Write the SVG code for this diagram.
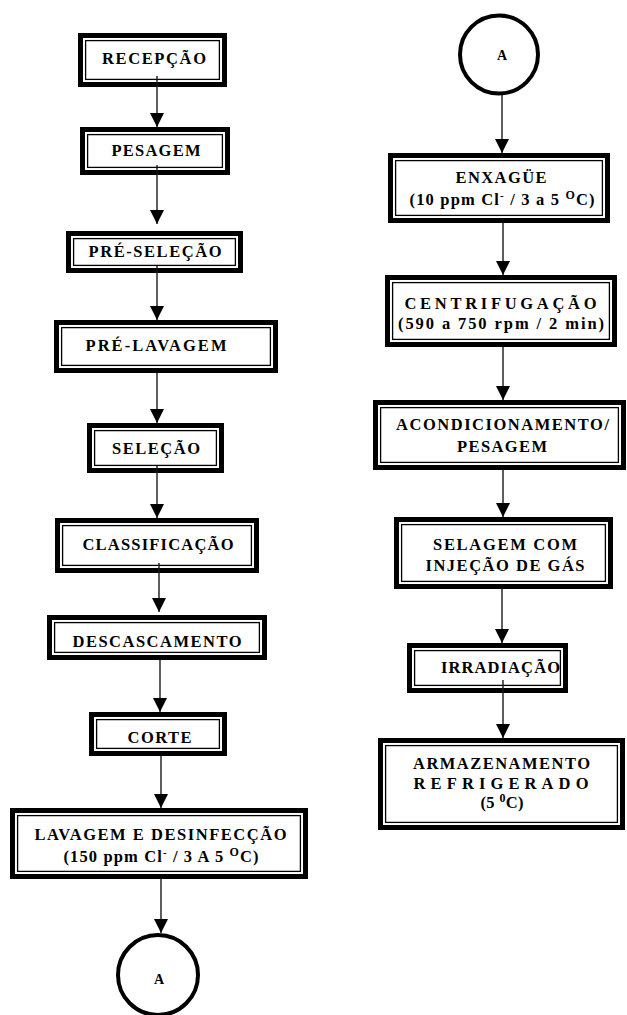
<svg xmlns="http://www.w3.org/2000/svg" width="627" height="1015" viewBox="0 0 627 1015">
<defs>
<style>
.bg{fill:#ffffff}
.ob{fill:#ffffff;stroke:#000000;stroke-width:5}
.ib{fill:none;stroke:#000000;stroke-width:1.3}
.t{font-family:"Liberation Serif","Times New Roman","DejaVu Serif",serif;font-weight:bold;font-size:16.5px;fill:#000000;text-anchor:middle}
.a{font-family:"Liberation Serif","Times New Roman","DejaVu Serif",serif;font-weight:bold;font-size:14px;fill:#000000;text-anchor:middle}
.c{fill:#ffffff;stroke:#000000;stroke-width:4}
.ln{stroke:#1a1a1a;stroke-width:1.4;fill:none;marker-end:url(#ah)}
</style>
<marker id="ah" markerUnits="userSpaceOnUse" markerWidth="14" markerHeight="14" viewBox="0 0 14 14" refX="14" refY="7" orient="auto">
<path d="M0,0 L14,7 L0,14 z" fill="#000000"/>
</marker>
</defs>
<rect class="bg" x="0" y="0" width="627" height="1015"/>

<g id="n1">
<rect class="ob" x="80.5" y="35.5" width="144" height="49"/>
<rect class="ib" x="85.6" y="40.6" width="133.8" height="38.8"/>
<text class="t" x="154" y="64" textLength="104" lengthAdjust="spacing">RECEPÇÃO</text>
</g>
<g id="n2">
<rect class="ob" x="82.5" y="129.5" width="145" height="43"/>
<rect class="ib" x="87.6" y="134.6" width="134.8" height="32.8"/>
<text class="t" x="156" y="156" textLength="89" lengthAdjust="spacing">PESAGEM</text>
</g>
<g id="n3">
<rect class="ob" x="68.5" y="233.5" width="172" height="37"/>
<rect class="ib" x="73.6" y="238.6" width="161.8" height="26.8"/>
<text class="t" x="155" y="257" textLength="133" lengthAdjust="spacing">PRÉ-SELEÇÃO</text>
</g>
<g id="n4">
<rect class="ob" x="56.5" y="322.5" width="219" height="48"/>
<rect class="ib" x="61.6" y="327.6" width="208.8" height="37.8"/>
<text class="t" x="156" y="351" textLength="141" lengthAdjust="spacing">PRÉ-LAVAGEM</text>
</g>
<g id="n5">
<rect class="ob" x="89.5" y="425.5" width="132" height="45"/>
<rect class="ib" x="94.6" y="430.6" width="121.8" height="34.8"/>
<text class="t" x="156" y="454" textLength="88" lengthAdjust="spacing">SELEÇÃO</text>
</g>
<g id="n6">
<rect class="ob" x="57.5" y="520.5" width="199" height="50"/>
<rect class="ib" x="62.6" y="525.6" width="188.8" height="39.8"/>
<text class="t" x="158" y="550" textLength="151" lengthAdjust="spacing">CLASSIFICAÇÃO</text>
</g>
<g id="n7">
<rect class="ob" x="49.5" y="617.5" width="215" height="40"/>
<rect class="ib" x="54.6" y="622.6" width="204.8" height="29.8"/>
<text class="t" x="157" y="647" textLength="169" lengthAdjust="spacing">DESCASCAMENTO</text>
</g>
<g id="n8">
<rect class="ob" x="91.5" y="714.5" width="133" height="39"/>
<rect class="ib" x="96.6" y="719.6" width="122.8" height="28.8"/>
<text class="t" x="159.5" y="743" textLength="64" lengthAdjust="spacing">CORTE</text>
</g>
<g id="n9">
<rect class="ob" x="12.5" y="810.5" width="293" height="66"/>
<rect class="ib" x="17.6" y="815.6" width="282.8" height="55.8"/>
<text class="t" x="160.5" y="840" textLength="252" lengthAdjust="spacing">LAVAGEM E DESINFECÇÃO</text>
<text class="t" x="161" y="862" textLength="195" lengthAdjust="spacing">(150 ppm Cl<tspan font-size="11" dy="-6">-</tspan><tspan dy="6"> / 3 A 5 </tspan><tspan font-size="12" dy="-6">O</tspan><tspan dy="6">C)</tspan></text>
</g>
<g id="n10">
<circle class="c" cx="158" cy="975" r="40"/>
<text class="a" x="159" y="984">A</text>
</g>

<g id="r0">
<circle class="c" cx="499" cy="54.5" r="39"/>
<text class="a" x="502" y="60">A</text>
</g>
<g id="r1">
<rect class="ob" x="390.5" y="155.5" width="217" height="65"/>
<rect class="ib" x="395.6" y="160.6" width="206.8" height="54.8"/>
<text class="t" x="501" y="183" textLength="91" lengthAdjust="spacing">ENXAGÜE</text>
<text class="t" x="502" y="205" textLength="185" lengthAdjust="spacing">(10 ppm Cl<tspan font-size="11" dy="-6">-</tspan><tspan dy="6"> / 3 a 5 </tspan><tspan font-size="12" dy="-6">O</tspan><tspan dy="6">C)</tspan></text>
</g>
<g id="r2">
<rect class="ob" x="387.5" y="277.5" width="227" height="67"/>
<rect class="ib" x="392.6" y="282.6" width="216.8" height="56.8"/>
<text class="t" x="500.5" y="309" textLength="192" lengthAdjust="spacing">CENTRIFUGAÇÃO</text>
<text class="t" x="501" y="329" textLength="206" lengthAdjust="spacing">(590 a 750 rpm / 2 min)</text>
</g>
<g id="r3">
<rect class="ob" x="375.5" y="402.5" width="248" height="65"/>
<rect class="ib" x="380.6" y="407.6" width="237.8" height="54.8"/>
<text class="t" x="502.5" y="430" textLength="213" lengthAdjust="spacing">ACONDICIONAMENTO/</text>
<text class="t" x="502" y="452" textLength="90" lengthAdjust="spacing">PESAGEM</text>
</g>
<g id="r4">
<rect class="ob" x="396.5" y="519.5" width="214" height="67"/>
<rect class="ib" x="401.6" y="524.6" width="203.8" height="56.8"/>
<text class="t" x="505" y="550" textLength="144" lengthAdjust="spacing">SELAGEM COM</text>
<text class="t" x="505" y="571" textLength="159" lengthAdjust="spacing">INJEÇÃO DE GÁS</text>
</g>
<g id="r5">
<rect class="ob" x="409.5" y="645.5" width="156" height="45"/>
<rect class="ib" x="414.6" y="650.6" width="145.8" height="34.8"/>
<text class="t" x="500.5" y="673" textLength="119" lengthAdjust="spacing">IRRADIAÇÃO</text>
</g>
<g id="r6">
<rect class="ob" x="380.5" y="740.5" width="242" height="87"/>
<rect class="ib" x="385.6" y="745.6" width="231.8" height="76.8"/>
<text class="t" x="501.5" y="769" textLength="177" lengthAdjust="spacing">ARMAZENAMENTO</text>
<text class="t" x="501" y="789" textLength="175" lengthAdjust="spacing">REFRIGERADO</text>
<text class="t" x="502" y="808" textLength="43" lengthAdjust="spacing">(5 <tspan font-size="12" dy="-6">0</tspan><tspan dy="6">C)</tspan></text>
</g>

<g id="connectors">
<line class="ln" x1="157" y1="76" x2="157" y2="127"/>
<line class="ln" x1="157" y1="165" x2="157" y2="224"/>
<line class="ln" x1="157" y1="266" x2="157" y2="320"/>
<line class="ln" x1="157" y1="373" x2="157" y2="423"/>
<line class="ln" x1="157" y1="466" x2="157" y2="518"/>
<line class="ln" x1="159" y1="563" x2="159" y2="612"/>
<line class="ln" x1="160" y1="660" x2="160" y2="712"/>
<line class="ln" x1="161" y1="756" x2="161" y2="808"/>
<line class="ln" x1="161" y1="879" x2="161" y2="933"/>
<line class="ln" x1="502" y1="95" x2="502" y2="153"/>
<line class="ln" x1="503" y1="223" x2="503" y2="275"/>
<line class="ln" x1="503" y1="347" x2="503" y2="400"/>
<line class="ln" x1="503" y1="470" x2="503" y2="517"/>
<line class="ln" x1="502" y1="589" x2="502" y2="643"/>
<line class="ln" x1="503" y1="680" x2="503" y2="738"/>
</g>
</svg>
